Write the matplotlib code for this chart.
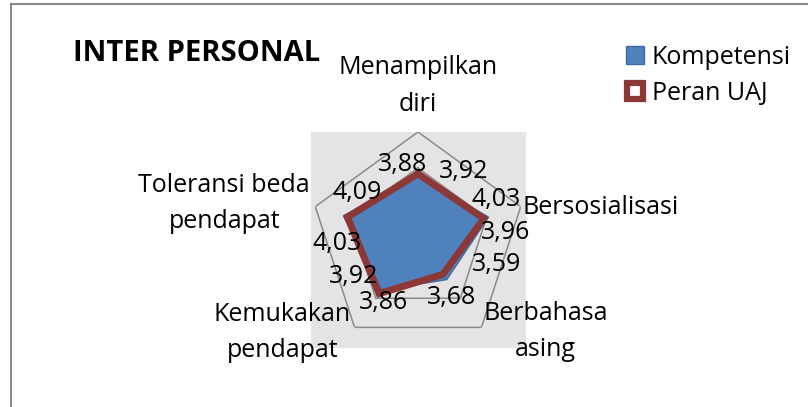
import numpy as np
import matplotlib
matplotlib.use("Agg")
import matplotlib.pyplot as plt
from matplotlib.patches import Rectangle, Patch
from matplotlib.lines import Line2D

plt.rcParams['font.family'] = ['Open Sans', 'DejaVu Sans']

# data
categories = ["Menampilkan\ndiri", "Bersosialisasi", "Berbahasa\nasing",
              "Kemukakan\npendapat", "Toleransi beda\npendapat"]
kompetensi = [3.88, 4.03, 3.68, 3.86, 4.09]
peran_uaj = [3.92, 3.96, 3.59, 3.92, 4.03]
r_ticks = [3.0, 3.5, 4.0, 4.5]

# layout (pixels)
W, H = 808, 407
cx, cy, R = 418, 240, 108

fig = plt.figure(figsize=(W / 100, H / 100), dpi=100)

# grey plot area
fig.add_artist(Rectangle((311 / W, 1 - 348 / H), 215 / W, 216 / H,
                         transform=fig.transFigure, facecolor="#E4E4E4",
                         edgecolor="none", zorder=-1))
# chart border (left + top only, rest cut off)
fig.add_artist(Line2D([11 / W, 11 / W], [0, 1 - 4 / H], transform=fig.transFigure,
                      color="#888888", lw=1.5))
fig.add_artist(Line2D([11 / W, 1], [1 - 4 / H, 1 - 4 / H], transform=fig.transFigure,
                      color="#888888", lw=1.5))

ax = fig.add_axes([(cx - R) / W, (H - cy - R) / H, 2 * R / W, 2 * R / H], polar=True)
ax.set_theta_offset(np.pi / 2)
ax.set_theta_direction(-1)
ax.set_ylim(r_ticks[0], r_ticks[-1])
ax.patch.set_visible(False)
ax.spines['polar'].set_visible(False)
ax.grid(False)
ax.set_xticks([])
ax.set_yticks([])

n = len(categories)
theta = np.linspace(0, 2 * np.pi, n, endpoint=False)
th_c = np.append(theta, theta[0])

# pentagon gridlines
for rt in r_ticks[1:]:
    ax.plot(th_c, [rt] * (n + 1), color="#8A8A8A", lw=1.1, zorder=1)

k_c = kompetensi + kompetensi[:1]
p_c = peran_uaj + peran_uaj[:1]
ax.fill(th_c, k_c, facecolor="#4F81BD", edgecolor="#3D6BA3", lw=1, zorder=2)
ax.plot(th_c, p_c, color="#8C3836", lw=5, solid_joinstyle="miter", zorder=3)

# category labels
cat_offsets = [(0, 46), (2, -1), (64, -4), (-72, -5), (-91, 3)]
cat_ha = ["center", "left", "center", "center", "center"]
for t, lab, off, ha in zip(theta, categories, cat_offsets, cat_ha):
    ax.annotate(lab, xy=(t, r_ticks[-1]), xytext=off, textcoords="offset pixels",
                ha=ha, va="center", fontsize=18, linespacing=1.6,
                annotation_clip=False)

# data labels
k_offsets = [(-15, 12), (8, 18), (5, -18), (2, -12), (14, 23)]
p_offsets = [(46, 2), (22, -14), (54, 10), (-25, 17), (-10, -26)]
for vals, offs in ((kompetensi, k_offsets), (peran_uaj, p_offsets)):
    for t, v, off in zip(theta, vals, offs):
        ax.annotate(f"{v:.2f}".replace(".", ","), xy=(t, v), xytext=off,
                    textcoords="offset pixels", ha="center", va="center",
                    fontsize=18, zorder=5, annotation_clip=False)

fig.text(73 / W, 1 - 61 / H, "INTER PERSONAL", fontsize=21, fontweight="bold",
         ha="left", va="baseline")

handles = [Patch(facecolor="#4F81BD", edgecolor="#3D6BA3", label="Kompetensi"),
           Line2D([], [], marker="s", markersize=12, markerfacecolor="white",
                  markeredgecolor="#8C3836", markeredgewidth=4.5, lw=0, label="Peran UAJ")]
fig.legend(handles=handles, loc="upper left", bbox_to_anchor=(613 / W, 1 - 32 / H),
           frameon=False, fontsize=18, handlelength=0.75, handleheight=0.75,
           handletextpad=0.3, labelspacing=0.45, borderpad=0)

fig.savefig("out.png", dpi=100)
